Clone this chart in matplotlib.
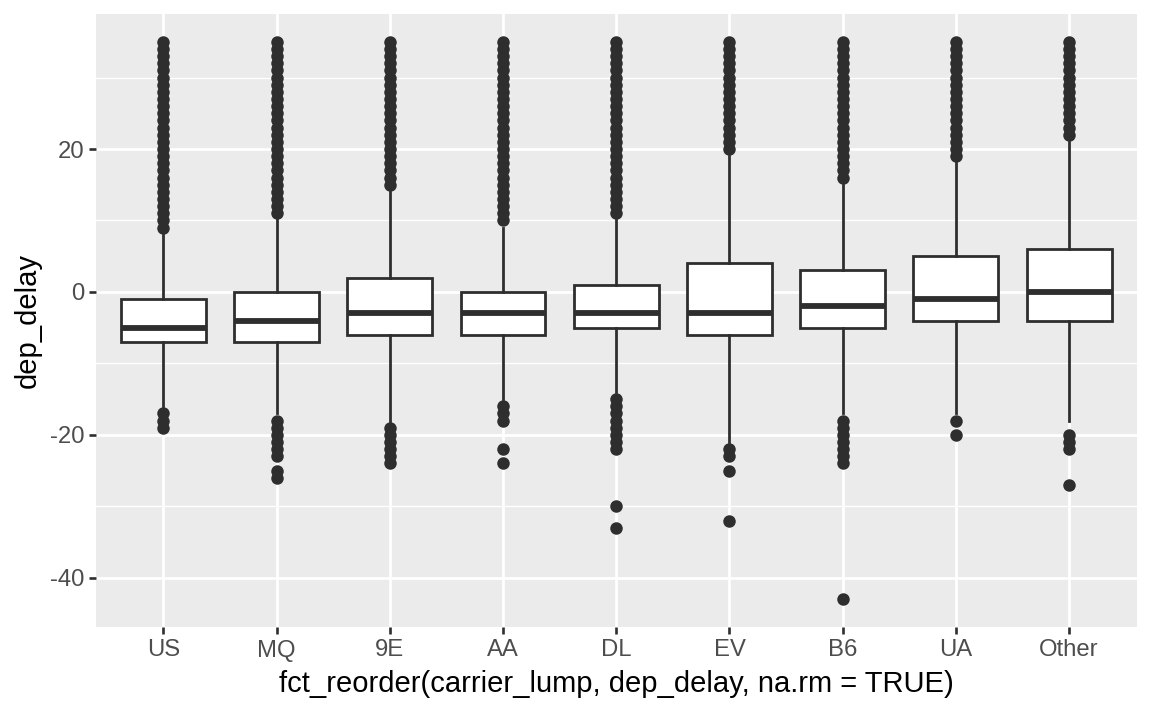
import matplotlib
matplotlib.use("Agg")
import matplotlib.pyplot as plt

carriers = ["US", "MQ", "9E", "AA", "DL", "EV", "B6", "UA", "Other"]
q1 = [-7, -7, -6, -6, -5, -6, -5, -4, -4]
medians = [-5, -4, -3, -3, -3, -3, -2, -1, 0]
q3 = [-1, 0, 2, 0, 1, 4, 3, 5, 6]
whisker_low = [-16, -17, -18, -15, -14, -21, -17, -17, -18]
whisker_high = [8, 10, 14, 9, 10, 19, 15, 18, 21]

outliers_us = [-19, -18, -17, 9, 10, 11, 12, 13, 14, 15, 16, 17, 18, 19, 20, 21, 22,
               23, 24, 25, 26, 27, 28, 29, 30, 31, 32, 33, 34, 35]
outliers_mq = [-26, -25, -23, -22, -21, -20, -19, -18, 11, 12, 13, 14, 15, 16, 17, 18,
               19, 20, 21, 22, 23, 24, 25, 26, 27, 28, 29, 30, 31, 32, 33, 34, 35]
outliers_9e = [-24, -23, -22, -21, -20, -19, 15, 16, 17, 18, 19, 20, 21, 22, 23, 24,
               25, 26, 27, 28, 29, 30, 31, 32, 33, 34, 35]
outliers_aa = [-24, -22, -18, -17, -16, 10, 11, 12, 13, 14, 15, 16, 17, 18, 19, 20, 21,
               22, 23, 24, 25, 26, 27, 28, 29, 30, 31, 32, 33, 34, 35]
outliers_dl = [-33, -30, -22, -21, -20, -19, -18, -17, -16, -15, 11, 12, 13, 14, 15, 16,
               17, 18, 19, 20, 21, 22, 23, 24, 25, 26, 27, 28, 29, 30, 31, 32, 33, 34, 35]
outliers_ev = [-32, -25, -23, -22, 20, 21, 22, 23, 24, 25, 26, 27, 28, 29, 30, 31, 32,
               33, 34, 35]
outliers_b6 = [-43, -24, -23, -22, -21, -20, -19, -18, 16, 17, 18, 19, 20, 21, 22, 23,
               24, 25, 26, 27, 28, 29, 30, 31, 32, 33, 34, 35]
outliers_ua = [-20, -18, 19, 20, 21, 22, 23, 24, 25, 26, 27, 28, 29, 30, 31, 32, 33, 34, 35]
outliers_other = [-27, -22, -21, -20, 22, 23, 24, 25, 26, 27, 28, 29, 30, 31, 32, 33, 34, 35]
outliers = [outliers_us, outliers_mq, outliers_9e, outliers_aa, outliers_dl,
            outliers_ev, outliers_b6, outliers_ua, outliers_other]

y_ticks = [-40, -20, 0, 20]
y_minor = [-30, -10, 10, 30]

W, H = 1152, 711
fig = plt.figure(figsize=(W / 100, H / 100), dpi=100)
fig.patch.set_facecolor("white")
ax = fig.add_axes([95.5 / W, 1 - 627 / H, (1137 - 95.5) / W, (627 - 14) / H])
ax.set_facecolor("#EBEBEB")

stats = []
for i, c in enumerate(carriers):
    stats.append(dict(label=c, med=medians[i], q1=q1[i], q3=q3[i],
                      whislo=whisker_low[i], whishi=whisker_high[i],
                      fliers=outliers[i]))

dark = "#2E2E2E"
positions = list(range(1, len(carriers) + 1))
ax.bxp(stats, positions=positions, widths=0.75, patch_artist=True, showcaps=False,
       boxprops=dict(facecolor="white", edgecolor=dark, linewidth=2.0),
       medianprops=dict(color=dark, linewidth=4.2, solid_capstyle="butt"),
       whiskerprops=dict(color=dark, linewidth=2.0),
       flierprops=dict(marker="o", markerfacecolor=dark, markeredgecolor=dark,
                       markeredgewidth=0.0, markersize=9.0, linestyle="none"),
       zorder=3)

# ggplot-like limits
lo, hi = -43, 35
pad = 0.05 * (hi - lo)
ax.set_ylim(lo - pad, hi + pad)
ax.set_xlim(0.4, len(carriers) + 0.6)

ax.set_yticks(y_ticks)
ax.set_yticklabels([str(v) for v in y_ticks])
ax.set_yticks(y_minor, minor=True)
ax.set_xticks(positions)
ax.set_xticklabels(carriers)

ax.grid(True, which="major", color="white", linewidth=1.95, zorder=0)
ax.grid(True, which="minor", axis="y", color="white", linewidth=0.95, zorder=0)
ax.set_axisbelow(True)
for s in ax.spines.values():
    s.set_visible(False)

ax.tick_params(axis="both", which="major", length=5, width=1.9, color=dark,
               labelcolor="#4D4D4D", labelsize=17.2, pad=3)
ax.tick_params(axis="x", which="major", pad=4)
ax.tick_params(axis="y", which="minor", length=0)
for lab in ax.get_xticklabels() + ax.get_yticklabels():
    lab.set_fontfamily("Liberation Sans")

ax.set_xlabel("fct_reorder(carrier_lump, dep_delay, na.rm = TRUE)",
              fontsize=21, family="Liberation Sans", color="black", labelpad=6)
ax.set_ylabel("dep_delay", fontsize=21, family="Liberation Sans", color="black",
              labelpad=6)

fig.savefig("out.png", dpi=100, facecolor="white")
